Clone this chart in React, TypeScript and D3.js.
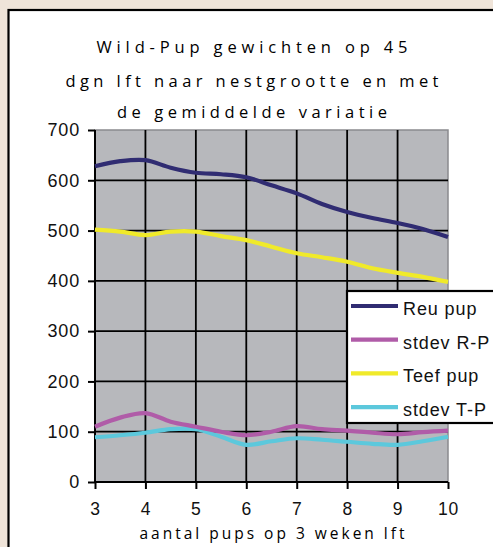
import React, { useEffect, useRef } from "react";
import * as d3 from "d3";

// nestgrootte (aantal pups) en de gemeten waarden
const xValues = [3, 3.5, 4, 4.5, 5, 5.5, 6, 6.5, 7, 7.5, 8, 8.5, 9, 9.5, 10];
const reuPup = [628, 638, 640, 625, 615, 612, 606, 590, 574, 553, 537, 525, 515, 503, 487];
const stdevRP = [110, 128, 137, 120, 110, 100, 93, 100, 111, 105, 102, 98, 95, 99, 102];
const teefPup = [502, 498, 491, 498, 498, 489, 481, 468, 455, 447, 438, 425, 416, 408, 398];
const stdevTP = [89, 93, 98, 105, 105, 90, 74, 81, 87, 84, 80, 76, 74, 81, 90];

const xTicks = [3, 4, 5, 6, 7, 8, 9, 10];
const yTicks = [0, 100, 200, 300, 400, 500, 600, 700];

const seriesNames = ["Reu pup", "stdev R-P", "Teef pup", "stdev T-P"];
const seriesColors = ["#302c72", "#b05ca8", "#f0ea2a", "#5cc8dc"];

const titleLines = [
  "Wild-Pup gewichten op 45",
  "dgn lft naar nestgrootte en met",
  "de gemiddelde variatie",
];
const xTitle = "aantal pups op 3 weken lft";

const W = 493;
const H = 547;

const App = () => {
  const ref = useRef<SVGSVGElement>(null);

  useEffect(() => {
    if (!ref.current) return;
    const svg = d3.select(ref.current);
    svg.selectAll("*").remove();

    const left = 95, right = 448, top = 130, bottom = 482;

    // background + panel
    svg.append("rect").attr("width", W).attr("height", H).attr("fill", "#efe4d9");
    svg.append("rect")
      .attr("x", 8.5).attr("y", 10)
      .attr("width", W + 20).attr("height", H + 20)
      .attr("fill", "#ffffff").attr("stroke", "#000").attr("stroke-width", 2.2);

    // title
    const titleY = [53, 87, 118];
    const titleW = [311, 373, 270];
    titleLines.forEach((t, i) => {
      svg.append("text")
        .attr("x", 252).attr("y", titleY[i])
        .attr("text-anchor", "middle")
        .attr("font-family", "'Open Sans', sans-serif")
        .attr("font-size", 16.5)
        .attr("textLength", titleW[i])
        .attr("lengthAdjust", "spacing")
        .attr("fill", "#000")
        .text(t);
    });

    const x = d3.scaleLinear().domain([3, 10]).range([left, right]);
    const y = d3.scaleLinear().domain([0, 700]).range([bottom, top]);

    // plot area
    svg.append("rect")
      .attr("x", left).attr("y", top)
      .attr("width", right - left).attr("height", bottom - top)
      .attr("fill", "#b7b8bc").attr("stroke", "#8a8a8e").attr("stroke-width", 1.5);

    // grid
    const grid = svg.append("g").attr("stroke", "#000").attr("stroke-width", 1.8);
    grid.selectAll("line.h")
      .data(yTicks.filter(d => d > 0 && d < 700))
      .join("line")
      .attr("x1", left).attr("x2", right)
      .attr("y1", d => y(d)).attr("y2", d => y(d));
    grid.selectAll("line.v")
      .data(xTicks.filter(d => d > 3 && d < 10))
      .join("line")
      .attr("y1", top).attr("y2", bottom)
      .attr("x1", d => x(d)).attr("x2", d => x(d));

    // axes
    const yAxis = d3.axisLeft(y).tickValues(yTicks).tickSize(7).tickPadding(8);
    const gy = svg.append("g").attr("transform", `translate(${left},0)`).call(yAxis);
    const xAxis = d3.axisBottom(x).tickValues(xTicks).tickFormat(d3.format("d")).tickSize(7).tickPadding(14);
    const gx = svg.append("g").attr("transform", `translate(0,${bottom})`).call(xAxis);
    [gx, gy].forEach(g => {
      g.select(".domain").attr("stroke", "#000").attr("stroke-width", 2);
      g.selectAll(".tick line").attr("stroke", "#000").attr("stroke-width", 2);
      g.selectAll(".tick text")
        .attr("font-family", "'Liberation Sans', Arial, sans-serif")
        .attr("font-size", 18)
        .attr("letter-spacing", 0.8)
        .attr("fill", "#111");
    });
    gx.selectAll(".tick text").attr("font-size", 17.5);
    gy.select(".domain").attr("d", `M0,${top}V${bottom}`);
    gx.select(".domain").attr("d", `M${left},0H${right}`);

    svg.append("text")
      .attr("x", 272).attr("y", 538.5)
      .attr("text-anchor", "middle")
      .attr("font-family", "'Open Sans', sans-serif")
      .attr("font-size", 15.5)
      .attr("textLength", 265)
      .attr("lengthAdjust", "spacing")
      .attr("fill", "#000")
      .text(xTitle);

    // lines
    const series = [reuPup, stdevRP, teefPup, stdevTP];
    const line = d3.line<number>()
      .x((d, i) => x(xValues[i]))
      .y(d => y(d))
      .curve(d3.curveCatmullRom.alpha(0.5));
    [3, 1, 2, 0].forEach(k => {
      svg.append("path")
        .attr("d", line(series[k]))
        .attr("fill", "none")
        .attr("stroke", seriesColors[k])
        .attr("stroke-width", 4.2)
        .attr("stroke-linejoin", "round");
    });

    // legend
    const lg = svg.append("g");
    lg.append("rect")
      .attr("x", 347).attr("y", 291)
      .attr("width", 200).attr("height", 132)
      .attr("fill", "#fff").attr("stroke", "#000").attr("stroke-width", 2.2);
    seriesNames.forEach((name, i) => {
      const cy = 306 + i * 33.7;
      lg.append("line")
        .attr("x1", 351).attr("x2", 398)
        .attr("y1", cy).attr("y2", cy)
        .attr("stroke", seriesColors[i]).attr("stroke-width", 4.2);
      lg.append("text")
        .attr("x", 403).attr("y", cy + 9)
        .attr("font-family", "'Liberation Sans', Arial, sans-serif")
        .attr("font-size", 18)
        .attr("letter-spacing", 0.9)
        .attr("fill", "#111")
        .text(name);
    });
  }, []);

  return (
    <svg
      ref={ref}
      width={W}
      height={H}
      style={{ position: "absolute", left: 0, top: 0, display: "block" }}
    ></svg>
  );
};

export default App;
